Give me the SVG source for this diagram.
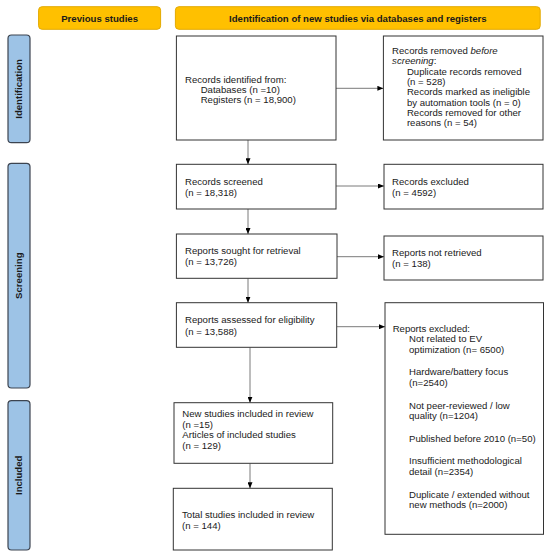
<svg xmlns="http://www.w3.org/2000/svg" width="550" height="559" viewBox="0 0 550 559">
<style>
text{font-family:"Liberation Sans",Arial,sans-serif;font-size:9.6px;fill:#1a1a1a}
.hd{fill:#FFC000;stroke:#E3A900;stroke-width:1}
.sb{fill:#9DC3E6;stroke:#3C4450;stroke-width:1.2}
.bx{fill:#fff;stroke:#333;stroke-width:1}
.b{font-weight:bold}
.ln{stroke:#7a7a7a;stroke-width:1;fill:none;marker-end:url(#ah)}
</style>
<defs>
<marker id="ah" viewBox="0 0 6 5" refX="6" refY="2.5" markerWidth="6" markerHeight="5" markerUnits="userSpaceOnUse" orient="auto">
<path d="M0,0 L6,2.5 L0,5 Z" fill="#000"/>
</marker>
</defs>
<rect width="550" height="559" fill="#fff"/>
<g id="hdr-prev"><rect class="hd" x="38.6" y="6.7" width="122" height="22.6" rx="3.5"/><text class="b" x="99.6" y="21.7" text-anchor="middle">Previous studies</text></g>
<g id="hdr-new"><rect class="hd" x="175.4" y="6.7" width="364.8" height="22.6" rx="3.5"/><text class="b" x="357.8" y="21.7" text-anchor="middle">Identification of new studies via databases and registers</text></g>
<g id="bar-ident"><rect class="sb" x="8" y="35" width="22" height="107.7" rx="3.5"/><text class="b" transform="translate(22.4,88.9) rotate(-90)" text-anchor="middle">Identification</text></g>
<g id="bar-screen"><rect class="sb" x="8" y="163.3" width="22" height="224.7" rx="3.5"/><text class="b" transform="translate(22.4,275.7) rotate(-90)" text-anchor="middle">Screening</text></g>
<g id="bar-incl"><rect class="sb" x="8" y="400.7" width="22" height="149.3" rx="3.5"/><text class="b" transform="translate(22.4,475.3) rotate(-90)" text-anchor="middle">Included</text></g>
<g id="connectors">
<path class="ln" d="M336,88.3 H383.4"/>
<path class="ln" d="M248,140 V164.3"/>
<path class="ln" d="M336,186 H384"/>
<path class="ln" d="M248,209 V234"/>
<path class="ln" d="M337,256.7 H384"/>
<path class="ln" d="M248,278.3 V302.7"/>
<path class="ln" d="M337,326.7 H385"/>
<path class="ln" d="M250,347.3 V402.7"/>
<path class="ln" d="M250,463.3 V488.3"/>
</g>
<g id="n-identified"><rect class="bx" x="176.4" y="36" width="159.6" height="104"/>
<text x="185" y="83.3">Records identified from:</text>
<text x="200.7" y="93">Databases (n =10)</text>
<text x="200.7" y="102.7">Registers (n = 18,900)</text></g>
<g id="n-removed"><rect class="bx" x="383.4" y="36" width="159.6" height="104"/>
<text x="392.1" y="54">Records removed <tspan font-style="italic">before</tspan></text>
<text x="392.1" y="64.3"><tspan font-style="italic">screening</tspan>:</text>
<text x="406.9" y="74.6">Duplicate records removed</text>
<text x="406.9" y="84.9">(n = 528)</text>
<text x="406.9" y="95.2">Records marked as ineligible</text>
<text x="406.9" y="105.5">by automation tools (n = 0)</text>
<text x="406.9" y="115.8">Records removed for other</text>
<text x="406.9" y="126.1">reasons (n = 54)</text></g>
<g id="n-screened"><rect class="bx" x="176.4" y="164.3" width="159.6" height="44.7"/>
<text x="185" y="185">Records screened</text>
<text x="185" y="195.7">(n = 18,318)</text></g>
<g id="n-excluded"><rect class="bx" x="384" y="164.3" width="159" height="44.7"/>
<text x="392.1" y="185">Records excluded</text>
<text x="392.1" y="195.7">(n = 4592)</text></g>
<g id="n-sought"><rect class="bx" x="176.4" y="234" width="160.6" height="44.3"/>
<text x="185" y="254">Reports sought for retrieval</text>
<text x="185" y="265">(n = 13,726)</text></g>
<g id="n-notretrieved"><rect class="bx" x="384" y="236" width="159" height="44"/>
<text x="392.1" y="255.6">Reports not retrieved</text>
<text x="392.1" y="266.6">(n = 138)</text></g>
<g id="n-assessed"><rect class="bx" x="176.4" y="302.7" width="160.3" height="44.6"/>
<text x="185" y="323.3">Reports assessed for eligibility</text>
<text x="185" y="335">(n = 13,588)</text></g>
<g id="n-reportsexcluded"><rect class="bx" x="385" y="302.7" width="158.5" height="231.6"/>
<text x="392.7" y="331.5">Reports excluded:</text>
<text x="409" y="342.2">Not related to EV</text>
<text x="409" y="352.9">optimization (n= 6500)</text>
<text x="409" y="375.4">Hardware/battery focus</text>
<text x="409" y="386.1">(n=2540)</text>
<text x="409" y="408.6">Not peer-reviewed / low</text>
<text x="409" y="419.3">quality (n=1204)</text>
<text x="409" y="441.8">Published before 2010 (n=50)</text>
<text x="409" y="464.3">Insufficient methodological</text>
<text x="409" y="475">detail (n=2354)</text>
<text x="409" y="497.5">Duplicate / extended without</text>
<text x="409" y="508.2">new methods (n=2000)</text></g>
<g id="n-newstudies"><rect class="bx" x="174" y="402.7" width="158.7" height="60.6"/>
<text x="182.3" y="416.6">New studies included in review</text>
<text x="182.3" y="427.5">(n =15)</text>
<text x="182.3" y="438.3">Articles of included studies</text>
<text x="182.3" y="449">(n = 129)</text></g>
<g id="n-total"><rect class="bx" x="173.3" y="488.3" width="159" height="61.7"/>
<text x="182" y="517.6">Total studies included in review</text>
<text x="182" y="529">(n = 144)</text></g>
</svg>
